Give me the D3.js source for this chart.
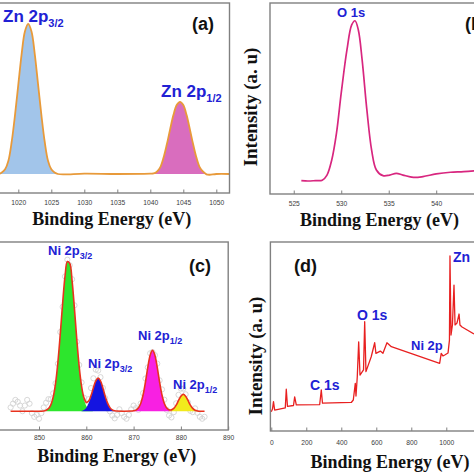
<!DOCTYPE html>
<html><head><meta charset="utf-8">
<script src="https://cdn.jsdelivr.net/npm/d3@7/dist/d3.min.js"></script>
<style>body{margin:0;background:#fff}svg{display:block}</style>
</head><body>
<svg id="chart" width="474" height="474"></svg>
<script>
// ---------- Panel (a): Zn 2p ----------
const aTicks = [1020, 1025, 1030, 1035, 1040, 1045, 1050];
const aEnergy = [1015, 1016, 1017, 1017.5, 1018, 1018.5, 1019, 1019.5, 1020, 1020.5, 1021, 1021.5, 1022, 1022.5, 1023, 1023.5, 1024, 1024.5, 1025, 1025.5, 1026, 1027, 1030, 1035, 1040, 1040.5, 1041, 1041.5, 1042, 1042.5, 1043, 1043.5, 1044, 1044.5, 1045, 1045.5, 1046, 1046.5, 1047, 1047.5, 1048, 1048.5, 1049, 1050, 1052];
const aIntensity = [10, 10.3, 10, 10.8, 12.5, 17, 27, 41, 57, 73, 85, 89, 85, 73, 57, 41, 27, 17, 12.5, 10.8, 10, 9.8, 10.2, 10, 10.2, 10.3, 11.2, 13.5, 18.5, 25.5, 33.5, 41, 46.3, 48, 46.3, 41, 33.5, 25.5, 18.5, 13.5, 11.2, 9.8, 9.6, 10, 10];
const zn32Energy = [1017, 1017.5, 1018, 1018.5, 1019, 1019.5, 1020, 1020.5, 1021, 1021.5, 1022, 1022.5, 1023, 1023.5, 1024, 1024.5, 1025, 1025.5, 1026];
const zn32Intensity = [10, 10.8, 12.5, 17, 27, 41, 57, 73, 85, 89, 85, 73, 57, 41, 27, 17, 12.5, 10.8, 10];
const zn12Energy = [1040.5, 1041, 1041.5, 1042, 1042.5, 1043, 1043.5, 1044, 1044.5, 1045, 1045.5, 1046, 1046.5, 1047, 1047.5, 1048, 1048.5];
const zn12Intensity = [10.3, 11.2, 13.5, 18.5, 25.5, 33.5, 41, 46.3, 48, 46.3, 41, 33.5, 25.5, 18.5, 13.5, 11.2, 10.3];
const aBaseline = 10;

// ---------- Panel (b): O 1s ----------
const bTicks = [525, 530, 535, 540];
const oEnergy = [525.8, 526.5, 527.3, 528.0, 528.5, 529.0, 529.5, 530.0, 530.6, 531.1, 531.45, 531.8, 532.2, 532.7, 533.2, 533.7, 534.4, 535.1, 535.8, 536.5, 537.6, 538.6, 540.0, 541.5, 542.9, 544.5];
const oIntensity = [7.0, 6.8, 7.0, 7.2, 9.9, 17.8, 31.9, 52.9, 75.4, 88.5, 90.7, 85.9, 70.2, 44.0, 23.0, 12.6, 9.6, 9.9, 10.8, 9.9, 8.7, 9.1, 10.5, 11.4, 11.7, 12.4];

// ---------- Panel (c): Ni 2p ----------
const cTicks = [850, 860, 870, 880, 890];
const niRawEnergy = [844, 844.5, 845, 845.5, 846, 846.5, 847, 847.5, 848, 848.5, 849, 849.5, 850, 850.5, 851, 851.5, 852, 852.5, 853, 853.5, 854, 854.5, 855, 855.5, 856, 856.5, 857, 857.5, 858, 858.5, 859, 859.5, 860, 860.5, 861, 861.5, 862, 862.5, 863, 863.5, 864, 864.5, 865, 865.5, 866, 866.5, 867, 867.5, 868, 868.5, 869, 869.5, 870, 870.5, 871, 871.5, 872, 872.5, 873, 873.5, 874, 874.5, 875, 875.5, 876, 876.5, 877, 877.5, 878, 878.5, 879, 879.5, 880, 880.5, 881, 881.5, 882, 882.5, 883, 883.5, 884, 884.5, 885];
const niRawIntensity = [12, 14, 16, 15, 13, 10, 13, 16, 14, 9, 7, 8, 6, 9, 12, 14.5, 16.4, 16.4, 19.5, 24.8, 35.2, 52.1, 65.5, 81.7, 90.6, 87.6, 80.2, 66.3, 46.9, 34.6, 25.3, 17.2, 12.7, 16.4, 22.3, 27.5, 32.1, 31.6, 28.1, 22.4, 16.9, 11.3, 9.9, 7.7, 6.2, 8, 11, 9, 7, 6, 8, 11, 13, 11.6, 10.7, 14.1, 19.6, 27.4, 33.3, 40.8, 41.4, 39.8, 35.3, 26.4, 21.6, 16.1, 10.7, 7.75, 6.7, 9.5, 14.2, 18.7, 22, 22, 19, 14.7, 10.2, 9.5, 11.5, 9.15, 7, 6, 7];
const niFitEnergy = [844, 848, 851, 851.5, 852, 852.5, 853, 853.5, 854, 854.5, 855, 855.5, 856, 856.5, 857, 857.5, 858, 858.5, 859, 859.5, 860, 860.5, 861, 861.5, 862, 862.5, 863, 863.5, 864, 864.5, 865, 865.5, 866, 868, 870, 870.5, 871, 871.5, 872, 872.5, 873, 873.5, 874, 874.5, 875, 875.5, 876, 876.5, 877, 877.5, 878, 878.5, 879, 879.5, 880, 880.5, 881, 881.5, 882, 882.5, 883, 883.5, 884, 885];
const niFitIntensity = [10, 10, 10.1, 10.5, 11.4, 13.4, 17.5, 24.8, 36.2, 51.1, 67.5, 81.7, 89.6, 88.6, 79.2, 64.3, 47.9, 33.6, 23.3, 17.2, 14.7, 15.4, 18.3, 22.5, 26.1, 27.6, 26.1, 22.4, 17.9, 14.3, 11.9, 10.7, 10.2, 10, 10.2, 10.6, 11.7, 14.1, 18.6, 25.4, 33.3, 39.8, 42.4, 39.8, 33.3, 25.4, 18.6, 14.1, 11.7, 10.75, 10.7, 11.5, 13.2, 15.7, 18.0, 19.0, 18.0, 15.7, 13.2, 11.5, 10.5, 10.15, 10, 10];
const ni32aEnergy = [851.5, 852, 852.5, 853, 853.5, 854, 854.5, 855, 855.5, 856, 856.5, 857, 857.5, 858, 858.5, 859, 859.5, 860, 860.5, 861, 861.5];
const ni32aIntensity = [10.5, 11.4, 13.4, 17.5, 24.8, 36.2, 51.1, 67.5, 81.7, 89.6, 88.6, 79.2, 64.3, 47.9, 33.6, 23.1, 16.5, 12.8, 11.1, 10.4, 10];
const ni32bEnergy = [859, 859.5, 860, 860.5, 861, 861.5, 862, 862.5, 863, 863.5, 864, 864.5, 865, 865.5, 866];
const ni32bIntensity = [10.2, 10.7, 11.9, 14.3, 17.9, 22.4, 26.1, 27.6, 26.1, 22.4, 17.9, 14.3, 11.9, 10.7, 10.2];
const ni12aEnergy = [870, 870.5, 871, 871.5, 872, 872.5, 873, 873.5, 874, 874.5, 875, 875.5, 876, 876.5, 877, 877.5, 878];
const ni12aIntensity = [10.2, 10.6, 11.7, 14.1, 18.6, 25.4, 33.3, 39.8, 42.4, 39.8, 33.3, 25.4, 18.6, 14.1, 11.7, 10.6, 10.2];
const ni12bEnergy = [877.5, 878, 878.5, 879, 879.5, 880, 880.5, 881, 881.5, 882, 882.5, 883, 883.5];
const ni12bIntensity = [10.15, 10.5, 11.5, 13.2, 15.7, 18.0, 19.0, 18.0, 15.7, 13.2, 11.5, 10.5, 10.15];
const cBaseline = 10;

// ---------- Panel (d): survey ----------
const dTicks = [0, 200, 400, 600, 800, 1000];
const surveyEnergy = [0, 7, 12.6, 19.4, 80, 85.7, 92.6, 126.9, 133.7, 142.9, 276.6, 285.7, 292.6, 457, 468.6, 480, 484, 491.4, 499.4, 506.9, 527, 533.7, 541, 571, 590.9, 598, 622.9, 638, 661, 686, 962, 971, 981, 991, 1010, 1018, 1021, 1027, 1035, 1044, 1050, 1061, 1073, 1078, 1090, 1158];
const surveyIntensity = [10.2, 11.6, 15.5, 11.1, 12.2, 22.1, 13.0, 13.5, 18.1, 13.8, 14.0, 21.7, 14.7, 15.1, 16.4, 25.2, 18.5, 28.7, 47.2, 29.6, 32.3, 57.8, 31.4, 39.3, 46.7, 41.1, 42.3, 41.1, 46.7, 44.6, 35.8, 41.1, 39.7, 40.2, 41.3, 48.1, 92.6, 50.8, 56.1, 77.2, 56.1, 57.1, 61.9, 56.1, 55.0, 51.3];

const zip = (e, v) => e.map((d, i) => ({e: d, v: v[i]}));

const svg = d3.select('#chart');
const SANS = 'Liberation Sans, Arial, sans-serif';
const SERIF = 'Liberation Serif, Times New Roman, serif';
const LABEL_BLUE = '#2121d4';
const FRAME = '#808080';

function panel(id, xDomain, xRange, yRange) {
  const x = d3.scaleLinear().domain(xDomain).range(xRange);
  const y = d3.scaleLinear().domain([0, 100]).range(yRange);
  const g = svg.append('g');
  const clipId = 'clip-' + id;
  svg.append('clipPath').attr('id', clipId).append('rect')
    .attr('x', xRange[0]).attr('y', yRange[1])
    .attr('width', xRange[1] - xRange[0]).attr('height', yRange[0] - yRange[1]);
  const plot = g.append('g').attr('clip-path', `url(#${clipId})`);
  return {x, y, g, plot};
}

function frameAndAxis(p, ticks, baseOff) {
  const [x0, x1] = p.x.range();
  const [y0, y1] = p.y.range();
  p.g.append('rect').attr('x', x0).attr('y', y1).attr('width', x1 - x0).attr('height', y0 - y1)
    .attr('fill', 'none').attr('stroke', FRAME).attr('stroke-width', 1.4);
  const ax = p.g.append('g').attr('transform', `translate(0,${y0})`)
    .call(d3.axisBottom(p.x).tickValues(ticks).tickSize(-3.5).tickFormat(d3.format('d')));
  ax.select('.domain').remove();
  ax.selectAll('.tick line').attr('stroke', FRAME).attr('stroke-width', 1);
  ax.selectAll('.tick text').attr('y', null).attr('dy', null)
    .attr('transform', `translate(0,${baseOff}) scale(1,1.2)`)
    .attr('fill', '#3a3a3a').attr('font-size', 6.7).attr('font-family', SANS);
}

function xLabel(cx, by) {
  svg.append('text').attr('transform', `translate(${cx},${by + 1}) scale(1,1.08)`).attr('text-anchor', 'middle')
    .attr('font-family', SERIF).attr('font-weight', 'bold').attr('font-size', 18).attr('fill', '#111')
    .text('Binding Energy (eV)');
}
function yLabel(bx, cy) {
  svg.append('text').attr('transform', `translate(${bx},${cy}) rotate(-90)`).attr('text-anchor', 'middle')
    .attr('font-family', SERIF).attr('font-weight', 'bold').attr('font-size', 19).attr('fill', '#111')
    .text('Intensity (a. u)');
}
function peakLabel(x, y, main, sub, size, subSize, color) {
  const t = svg.append('text').attr('x', x).attr('y', y).attr('font-family', SANS)
    .attr('font-weight', 'bold').attr('font-size', size).attr('fill', color || LABEL_BLUE);
  t.append('tspan').text(main);
  if (sub) t.append('tspan').attr('font-size', subSize).attr('dy', subSize * 0.45).text(sub);
}

// ===== (a) =====
{
  const p = panel('a', [1015, 1052], [-14.7, 229.5], [193, 3]);
  const area = d3.area().x(d => p.x(d.e)).y0(p.y(aBaseline)).y1(d => p.y(d.v)).curve(d3.curveCatmullRom);
  p.plot.append('path').datum(zip(zn32Energy, zn32Intensity)).attr('d', area).attr('fill', '#a2c5ea');
  p.plot.append('path').datum(zip(zn12Energy, zn12Intensity)).attr('d', area).attr('fill', '#d96dbe');
  const line = d3.line().x(d => p.x(d.e)).y(d => p.y(d.v)).curve(d3.curveCatmullRom);
  p.plot.append('path').datum(zip(aEnergy, aIntensity)).attr('d', line)
    .attr('fill', 'none').attr('stroke', '#e89a3a').attr('stroke-width', 1.8);
  frameAndAxis(p, aTicks, 12);
  xLabel(111.7, 224);
  peakLabel(3, 22, 'Zn 2p', '3/2', 17, 11);
  peakLabel(161, 97, 'Zn 2p', '1/2', 17, 11);
  peakLabel(192, 30, '(a)', null, 18, 0, '#111');
}

// ===== (b) =====
{
  const p = panel('b', [522.5, 547], [270, 502.7], [194, 3]);
  const line = d3.line().x(d => p.x(d.e)).y(d => p.y(d.v)).curve(d3.curveCatmullRom);
  p.plot.append('path').datum(zip(oEnergy, oIntensity)).attr('d', line)
    .attr('fill', 'none').attr('stroke', '#d8267f').attr('stroke-width', 1.7);
  frameAndAxis(p, bTicks, 11.5);
  xLabel(379.5, 225);
  yLabel(257, 107);
  peakLabel(337, 17, 'O 1s', null, 13, 0);
  peakLabel(465, 30, '(b)', null, 18, 0, '#111');
}

// ===== (c) =====
{
  const p = panel('c', [840, 890], [-8.3, 228.2], [430, 242]);
  p.plot.append('g').selectAll('circle').data(zip(niRawEnergy, niRawIntensity)).join('circle')
    .attr('cx', d => p.x(d.e)).attr('cy', d => p.y(d.v)).attr('r', 2.6)
    .attr('fill', 'none').attr('stroke', '#d2d2d2').attr('stroke-width', 0.9);
  const area = d3.area().x(d => p.x(d.e)).y0(p.y(cBaseline)).y1(d => p.y(d.v)).curve(d3.curveCatmullRom);
  p.plot.append('path').datum(zip(ni32aEnergy, ni32aIntensity)).attr('d', area).attr('fill', '#2de62d');
  p.plot.append('path').datum(zip(ni32bEnergy, ni32bIntensity)).attr('d', area).attr('fill', '#1414e0');
  p.plot.append('path').datum(zip(ni12aEnergy, ni12aIntensity)).attr('d', area).attr('fill', '#f820e2');
  p.plot.append('path').datum(zip(ni12bEnergy, ni12bIntensity)).attr('d', area).attr('fill', '#f2ea1c');
  const line = d3.line().x(d => p.x(d.e)).y(d => p.y(d.v)).curve(d3.curveCatmullRom);
  p.plot.append('path').datum(zip(niFitEnergy, niFitIntensity)).attr('d', line)
    .attr('fill', 'none').attr('stroke', '#e8321e').attr('stroke-width', 1.6);
  frameAndAxis(p, cTicks, 10);
  xLabel(116.7, 461);
  peakLabel(48, 255, 'Ni 2p', '3/2', 13, 9);
  peakLabel(88, 368, 'Ni 2p', '3/2', 13, 9);
  peakLabel(138, 340, 'Ni 2p', '1/2', 13, 9);
  peakLabel(173, 389, 'Ni 2p', '1/2', 13, 9);
  peakLabel(189, 272, '(c)', null, 18, 0, '#111');
}

// ===== (d) =====
{
  const p = panel('d', [-5, 1200], [270.4, 481.3], [431, 242]);
  const line = d3.line().x(d => p.x(d.e)).y(d => p.y(d.v));
  p.plot.append('path').datum(zip(surveyEnergy, surveyIntensity)).attr('d', line)
    .attr('fill', 'none').attr('stroke', '#e82020').attr('stroke-width', 1.3).attr('stroke-linejoin', 'round');
  frameAndAxis(p, dTicks, 13.5);
  xLabel(390, 467);
  yLabel(262, 356);
  peakLabel(294, 272, '(d)', null, 18, 0, '#111');
  peakLabel(357, 320, 'O 1s', null, 14, 0);
  peakLabel(310, 390, 'C 1s', null, 14, 0);
  peakLabel(411, 350, 'Ni 2p', null, 13, 0);
  peakLabel(453, 262, 'Zn', null, 14, 0);
}
</script>
</body></html>
